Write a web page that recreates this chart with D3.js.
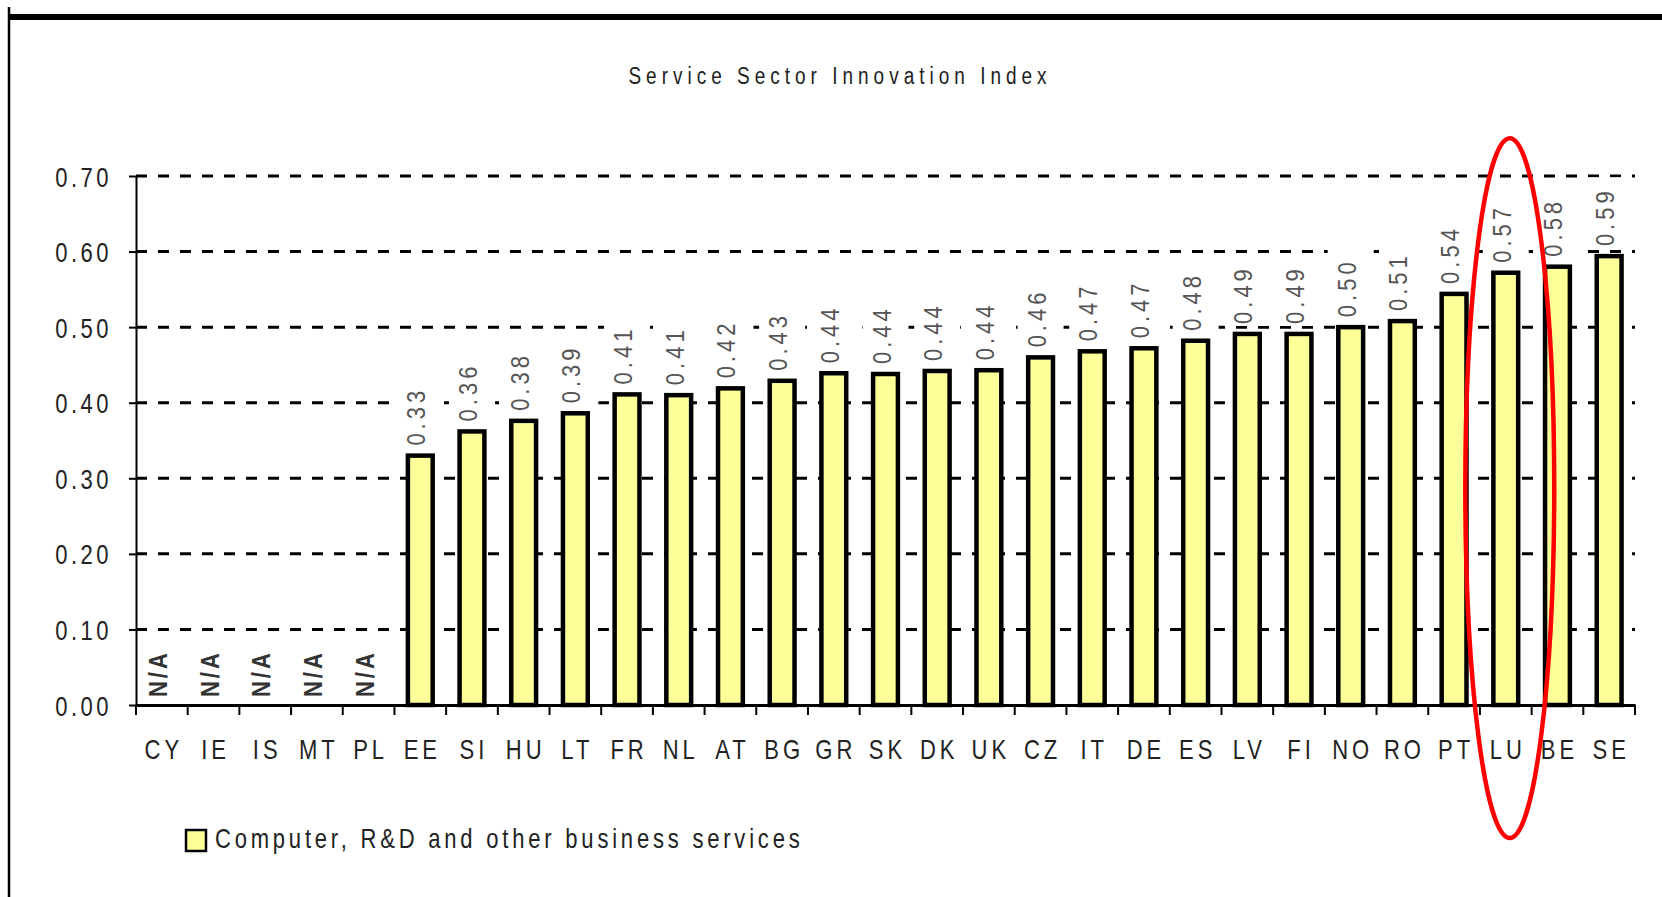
<!DOCTYPE html>
<html>
<head>
<meta charset="utf-8">
<script src="https://cdn.jsdelivr.net/npm/d3@7"></script>
<style>
  body { margin: 0; background: #fff; }
  svg text { font-family: "Liberation Sans", Arial, sans-serif; }
</style>
</head>
<body>
<svg width="1662" height="897"></svg>
<script>
// chart data
var categories = ['CY','IE','IS','MT','PL','EE','SI','HU','LT','FR','NL','AT','BG','GR','SK','DK','UK','CZ','IT','DE','ES','LV','FI','NO','RO','PT','LU','BE','SE'];
var values = [null, null, null, null, null, 0.33, 0.362, 0.376, 0.386, 0.411, 0.41, 0.419, 0.429, 0.439, 0.438, 0.442, 0.443, 0.46, 0.468, 0.472, 0.482, 0.491, 0.491, 0.5, 0.508, 0.544, 0.572, 0.58, 0.594];
var yTicks = [0, 0.1, 0.2, 0.3, 0.4, 0.5, 0.6, 0.7];
var title = 'Service Sector Innovation Index';
var seriesName = 'Computer, R&D and other business services';
var highlight = 'LU';          // circled country
var highlightSpan = [0.75, -0.176]; // top / bottom of the red ring, in index units

var data = categories.map((c, i) => ({ code: c, value: values[i] }));

var svg = d3.select('svg');
var stretch = 'scale(1,1.25)';

var x = d3.scaleBand()
  .domain(categories)
  .range([136, 1635]);

var y = d3.scaleLinear()
  .domain([0, 0.7])
  .range([705, 176]);

// frame lines
svg.append('line')
  .attr('x1', 9).attr('x2', 9).attr('y1', 7).attr('y2', 897)
  .attr('stroke', '#000').attr('stroke-width', 2.5);
svg.append('line')
  .attr('x1', 8).attr('x2', 1662).attr('y1', 17).attr('y2', 17)
  .attr('stroke', '#000').attr('stroke-width', 6);

// title
svg.append('text')
  .attr('transform', 'translate(840,84) ' + stretch)
  .attr('text-anchor', 'middle')
  .style('font-size', '19px')
  .style('letter-spacing', '5px')
  .attr('fill', '#222')
  .text(title);

// dashed grid
svg.append('g')
  .selectAll('line')
  .data(yTicks.filter(d => d > 0))
  .enter()
  .append('line')
  .attr('x1', x.range()[0])
  .attr('x2', x.range()[1])
  .attr('y1', d => y(d))
  .attr('y2', d => y(d))
  .attr('stroke', '#000')
  .attr('stroke-width', 3)
  .attr('stroke-dasharray', '11,11');

// bars
var barW = x.bandwidth() * 0.48;
svg.append('g')
  .selectAll('rect')
  .data(data.filter(d => d.value != null))
  .enter()
  .append('rect')
  .attr('x', d => x(d.code) + (x.bandwidth() - barW) / 2)
  .attr('y', d => y(d.value))
  .attr('width', barW)
  .attr('height', d => y(0) - y(d.value))
  .attr('fill', '#ffff99')
  .attr('stroke', '#000')
  .attr('stroke-width', 4.5);

// value labels, rotated, on white boxes
var labels = svg.append('g')
  .selectAll('g')
  .data(data)
  .enter()
  .append('g')
  .attr('transform', d => {
    var cx = x(d.code) + x.bandwidth() / 2;
    var base = d.value == null ? y(0) - 8 : y(d.value) - 10;
    return 'translate(' + cx + ',' + base + ') rotate(-90)';
  });

labels.each(function(d) {
  var g = d3.select(this);
  var box = g.append('rect');
  var t = g.append('text')
    .attr('transform', 'translate(0,5) scale(1,1.15)')
    .style('font-size', '22px')
    .style('letter-spacing', d.value == null ? '3px' : '4px')
    .style('font-weight', d.value == null ? 'bold' : 'normal')
    .attr('fill', d.value == null ? '#333' : '#555')
    .text(d.value == null ? 'N/A' : d3.format('.2f')(d.value));
  var len = t.node().getComputedTextLength();
  if (d.value != null) {
    box.attr('x', -2).attr('y', -23)
      .attr('width', len + 12).attr('height', 46)
      .attr('fill', '#fff');
  } else {
    box.remove();
  }
});

// y axis
var yAxis = svg.append('g')
  .attr('transform', 'translate(' + x.range()[0] + ',0)')
  .call(d3.axisLeft(y).tickValues(yTicks).tickFormat(d3.format('.2f')).tickSize(7).tickSizeOuter(0));
yAxis.select('.domain').attr('stroke-width', 2);
yAxis.selectAll('.tick line').attr('stroke-width', 2);
yAxis.selectAll('.tick text')
  .attr('x', null).attr('dy', null)
  .attr('transform', 'translate(-24,10) ' + stretch)
  .style('font-size', '22px')
  .style('letter-spacing', '3.5px')
  .attr('fill', '#222');

// x axis: labels centred in bands, ticks on the band edges
var xAxis = svg.append('g')
  .attr('transform', 'translate(0,' + y(0) + ')')
  .call(d3.axisBottom(x).tickSize(0));
xAxis.select('.domain').attr('stroke-width', 3);
xAxis.selectAll('.tick text')
  .attr('y', null).attr('dy', null)
  .attr('transform', 'translate(2,54) ' + stretch)
  .style('font-size', '22px')
  .style('letter-spacing', '4px')
  .attr('fill', '#222');

var edges = categories.map(c => x(c)).concat([x.range()[1]]);
xAxis.append('g')
  .selectAll('line')
  .data(edges)
  .enter()
  .append('line')
  .attr('x1', d => d).attr('x2', d => d)
  .attr('y1', 0).attr('y2', 10)
  .attr('stroke', '#000')
  .attr('stroke-width', 2);

// legend
var legend = svg.append('g').attr('transform', 'translate(186,830)');
legend.append('rect')
  .attr('width', 20).attr('height', 21)
  .attr('fill', '#ffff99')
  .attr('stroke', '#000')
  .attr('stroke-width', 2.5);
legend.append('text')
  .attr('transform', 'translate(29,18) ' + stretch)
  .style('font-size', '22px')
  .style('letter-spacing', '3.8px')
  .attr('fill', '#222')
  .text(seriesName);

// red ring around the highlighted country
var ringTop = y(highlightSpan[0]);
var ringBottom = y(highlightSpan[1]);
svg.append('ellipse')
  .attr('cx', x(highlight) + x.bandwidth() / 2 + 4)
  .attr('cy', (ringTop + ringBottom) / 2)
  .attr('rx', x.bandwidth() * 0.86)
  .attr('ry', (ringBottom - ringTop) / 2)
  .attr('fill', 'none')
  .attr('stroke', '#ff0000')
  .attr('stroke-width', 4.5);
</script>
</body>
</html>
